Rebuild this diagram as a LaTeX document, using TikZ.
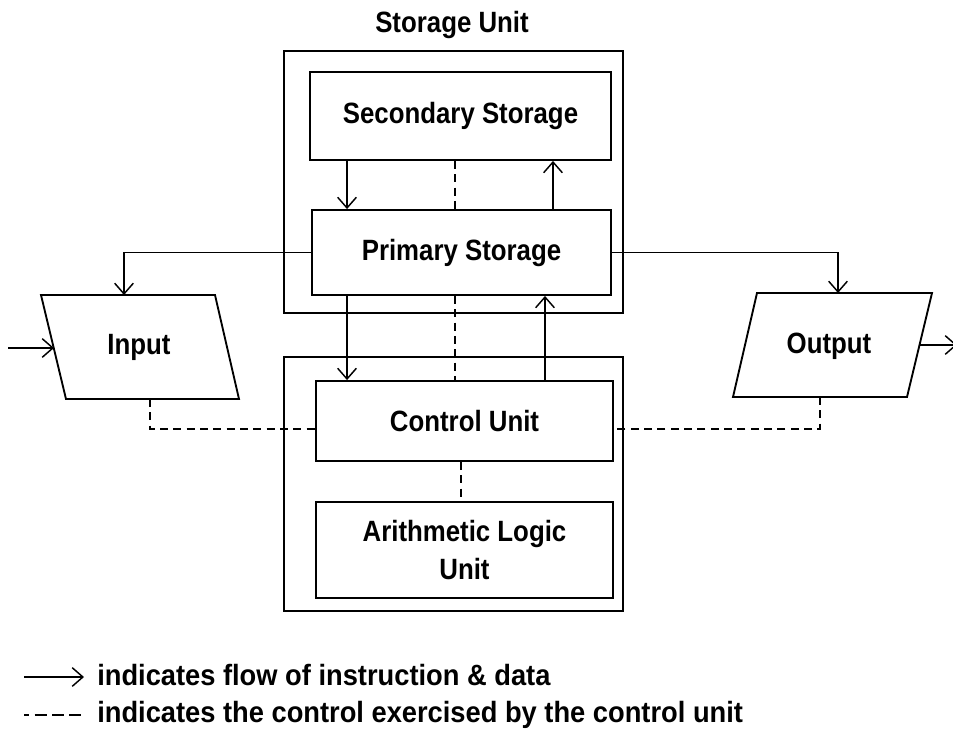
\documentclass[tikz,border=0pt]{standalone}
\usepackage{fontspec}
\newfontfamily\boxfont[FakeStretch=0.88]{Liberation Sans}
\newfontfamily\keyfont[FakeStretch=0.93]{Liberation Sans}
\usepackage{tikz}
\usetikzlibrary{arrows.meta,positioning}

\tikzset{
  unitbox/.style={draw, line width=1.4pt, align=center, inner sep=0pt,
    font=\boxfont\bfseries\fontsize{22}{28.5}\selectfont},
  boxtext/.style={inner sep=0pt, font=\boxfont\bfseries\fontsize{22}{28.5}\selectfont},
  keytext/.style={inner sep=0pt, font=\keyfont\bfseries\fontsize{22}{28.5}\selectfont},
  io/.style={line width=1.4pt, line join=miter},
  flow/.style={line width=1.4pt, -{Straight Barb[length=8pt,width=14pt,line width=1.1pt]}},
  ctl/.style={line width=1.4pt, dash pattern=on 6pt off 4pt},
  keyctl/.style={line width=1.4pt, dash pattern=on 9pt off 4pt, dash phase=5pt},
}

\begin{document}
\begin{tikzpicture}[x=0.75pt,y=0.75pt,yscale=-1,xscale=1]
    \useasboundingbox (0,0) rectangle (953,729);

    %Shape: Rectangle (storage unit)
    \node[unitbox, minimum width=254.25pt, minimum height=196.5pt] (storage) at (453.5,182) {};
    %Shape: Rectangle (cpu)
    \node[unitbox, minimum width=254.25pt, minimum height=190.5pt] (cpu) at (453.5,484) {};
    % Text Node
    \node[boxtext] (storagelab) at (452,25) {Storage Unit};

    %Shape: Rectangle
    \node[unitbox, minimum width=225.75pt, minimum height=66pt] (sec) at (460.5,116) {Secondary Storage};
    %Shape: Rectangle
    \node[unitbox, minimum width=224.25pt, minimum height=63.75pt] (prim) at (461.5,252.5) {Primary Storage};
    %Shape: Rectangle
    \node[unitbox, minimum width=222.75pt, minimum height=60pt] (ctrl) at (464.5,421) {Control Unit};
    %Shape: Rectangle
    \node[unitbox, minimum width=222.75pt, minimum height=72pt] (alu) at (464.5,550) {Arithmetic Logic\\Unit};

    %Shape: Parallelogram (input)
    \draw[io] (41,295) -- (215,295) -- (239,399) -- (66,399) -- cycle;
    \node[boxtext] (input) at (139,347) {Input};
    %Shape: Parallelogram (output)
    \draw[io] (757,293) -- (932,293) -- (907,397) -- (733,397) -- cycle;
    \node[boxtext] (output) at (829,346) {Output};

    % ends of the connectors
    \coordinate (inTop) at (124,295);
    \coordinate (inLeft) at (54,348);
    \coordinate (inBot) at (150,399);
    \coordinate (src) at (8,348);
    \coordinate (outTop) at (838,293);
    \coordinate (outRight) at (919.5,345);
    \coordinate (outBot) at (820,397);
    \coordinate (sink) at (957,345);
    \coordinate (dashrow) at (0,429);
    \coordinate (colA) at (347,0);
    \coordinate (colB) at (455,0);
    \coordinate (colC) at (553,0);
    \coordinate (colE) at (545,0);
    \coordinate (colF) at (461,0);

    %Straight Lines
    \draw[flow] (src) -- (inLeft);
    \draw[flow] (prim.west) -| (inTop);
    \draw[flow] (prim.east) -| (outTop);
    \draw[flow] (outRight) -- (sink);

    %Straight Lines
    \draw[flow] (sec.south -| colA) -- (prim.north -| colA);
    \draw[ctl] (sec.south -| colB) -- (prim.north -| colB);
    \draw[flow] (prim.north -| colC) -- (sec.south -| colC);
    \draw[flow] (prim.south -| colA) -- (ctrl.north -| colA);
    \draw[ctl] (prim.south -| colB) -- (ctrl.north -| colB);
    \draw[flow] (ctrl.north -| colE) -- (prim.south -| colE);
    \draw[ctl] (ctrl.south -| colF) -- (alu.north -| colF);

    %Dashed Lines
    \draw[ctl] (inBot) |- (ctrl.west |- dashrow);
    \draw[ctl] (outBot) |- (ctrl.east |- dashrow);

    % legend
    \coordinate (keyA) at (24,677);
    \coordinate (keyB) at (84,677);
    \coordinate (keyC) at (24,715);
    \coordinate (keyD) at (85,715);
    \draw[flow] (keyA) -- (keyB);
    \draw[keyctl] (keyC) -- (keyD);
    % Text Node
    \node[keytext, anchor=base west] (flowtxt) at (97,685) {indicates flow of instruction \& data};
    % Text Node
    \node[keytext, anchor=base west] (ctltxt) at (97,722) {indicates the control exercised by the control unit};

\end{tikzpicture}
\end{document}
